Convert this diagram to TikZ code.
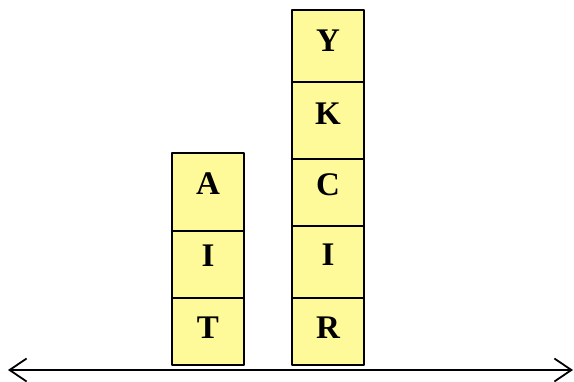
\documentclass[tikz,border=0pt]{standalone}
\usepackage{fontspec}
\setmainfont{Liberation Serif}
\usetikzlibrary{arrows.meta}
\begin{document}
\begin{tikzpicture}[x=1pt,y=-1pt,>={Straight Barb[length=17pt,width=23pt]},line join=round,font=\fontsize{33}{39}\selectfont\bfseries]
	\tikzset{blk/.style={draw,fill=yellow!40,line width=2pt}}
	\useasboundingbox (0,0) rectangle (574,381);
	% left stack
	\draw[blk] (172,153.3) rectangle (244,230.7);
	\draw[blk] (172,230.7) rectangle (244,298.3);
	\draw[blk] (172,298.3) rectangle (244,365);
	\node (a) at (208,184) {A};
	\node (i1) at (208,256) {I};
	\node (t) at (208,328) {T};
	% right stack
	\draw[blk] (292,9.5) rectangle (364,82.3);
	\draw[blk] (292,82.3) rectangle (364,159);
	\draw[blk] (292,159) rectangle (364,226);
	\draw[blk] (292,226) rectangle (364,298.3);
	\draw[blk] (292,298.3) rectangle (364,365);
	\node (y) at (328,41) {Y};
	\node (k) at (328,114) {K};
	\node (c) at (328,185) {C};
	\node (i2) at (328,255) {I};
	\node (r) at (328,328) {R};
	% axis
	\coordinate (L) at (8,370);
	\coordinate (R) at (573,370);
	\draw[<->,line width=1.8pt] (L)--(R);
\end{tikzpicture}
\end{document}
